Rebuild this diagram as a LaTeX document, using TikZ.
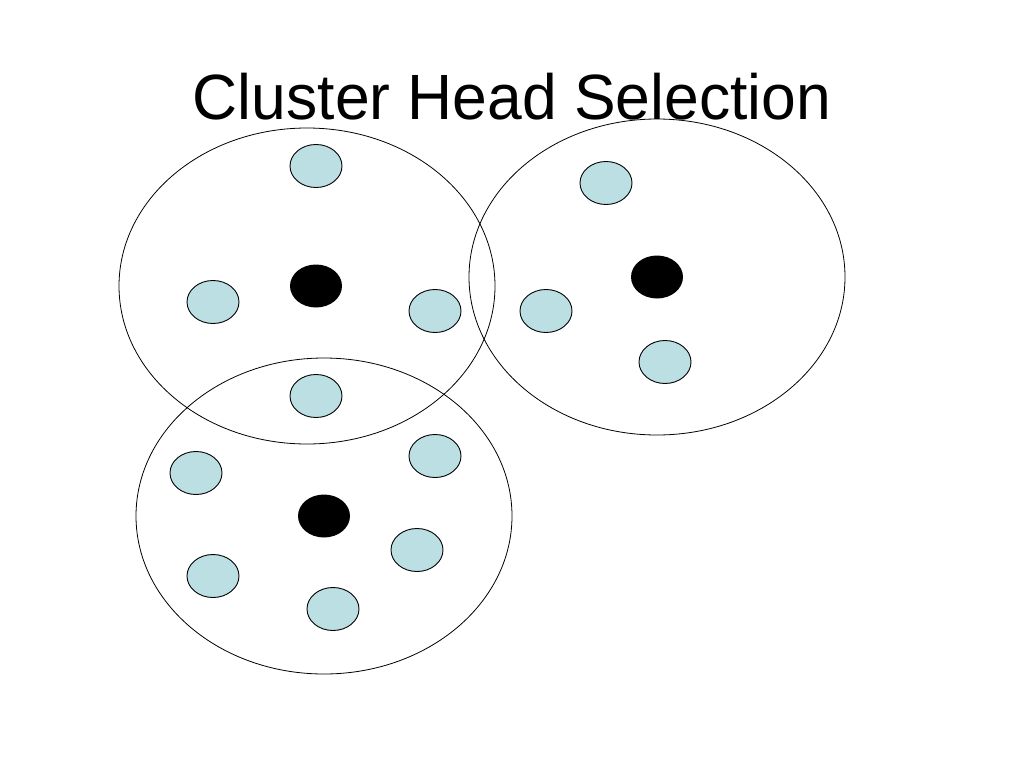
\documentclass[tikz,border=0pt]{standalone}
\usepackage{fontspec}
\setmainfont{Liberation Sans}
\usetikzlibrary{shapes.geometric}
\definecolor{nodeblue}{HTML}{BCDFE3}
\tikzset{
    cluster/.style={draw, ellipse, line width=0.8pt, minimum width=376pt, minimum height=316pt, inner sep=0pt},
    member/.style={draw, ellipse, line width=0.9pt, fill=nodeblue, minimum width=52pt, minimum height=43pt, inner sep=0pt},
    head/.style={ellipse, fill=black, minimum width=52pt, minimum height=43pt, inner sep=0pt}
}
\begin{document}
\begin{tikzpicture}[x=1pt, y=-1pt]
            \useasboundingbox (0,0) rectangle (1024,768);
            \node[font=\fontsize{64}{70}\selectfont, xscale=0.975, anchor=base] (title) at (512, 119) {Cluster Head Selection};

            % clusters
            \node[cluster] (c1) at (307, 286) {};
            \node[cluster] (c2) at (657, 277) {};
            \node[cluster] (c3) at (324, 516) {};

            % heads
            \node[head] (h1) at (316, 286) {};
            \node[head] (h2) at (657, 277) {};
            \node[head] (h3) at (324, 516) {};

            % cluster 1
            \node[member] (m1) at (316, 166) {};
            \node[member] (m2) at (213, 302) {};
            \node[member] (m3) at (435, 311) {};
            \node[member] (m4) at (316, 396) {};

            % cluster 2
            \node[member] (m5) at (606, 183) {};
            \node[member] (m6) at (546, 311) {};
            \node[member] (m7) at (665, 362) {};

            % cluster 3
            \node[member] (m8) at (196, 473) {};
            \node[member] (m9) at (435, 456) {};
            \node[member] (m10) at (417, 550) {};
            \node[member] (m11) at (213, 576) {};
            \node[member] (m12) at (333, 609) {};
        \end{tikzpicture}
\end{document}
